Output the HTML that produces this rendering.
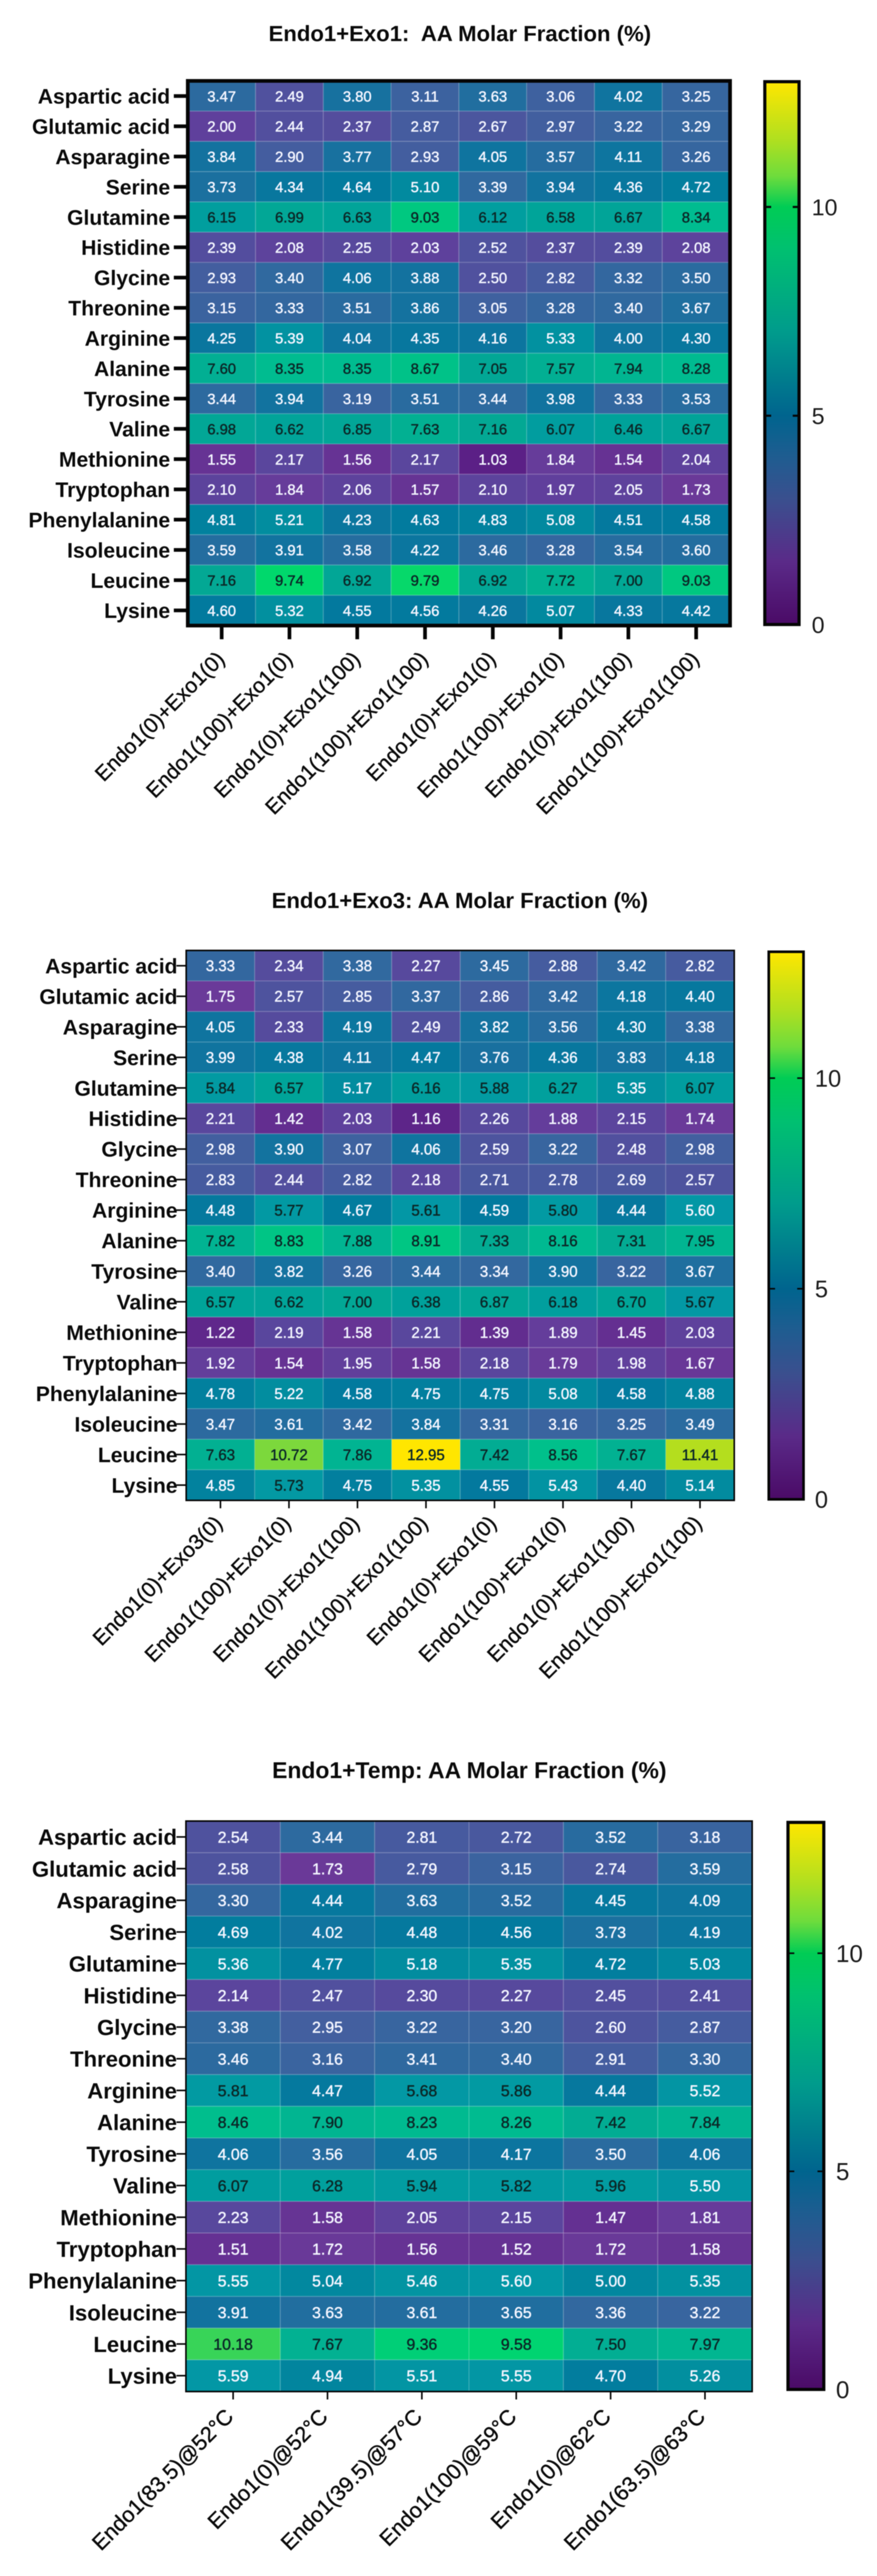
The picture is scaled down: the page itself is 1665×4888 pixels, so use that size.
<!DOCTYPE html>
<html lang="en">
<head>
<meta charset="utf-8">
<title>AA Molar Fraction Heatmaps</title>
<style>
html,body{margin:0;padding:0;background:#fff;width:1665px;height:4888px;overflow:hidden}
svg{display:block;filter:blur(0.9px)}
text{font-family:"Liberation Sans",sans-serif}
.title{font-weight:700;fill:#0a0a0a;text-anchor:middle;white-space:pre}
</style>
</head>
<body>
<svg id="figure" xmlns="http://www.w3.org/2000/svg" width="1665" height="4888" viewBox="0 0 1665 4888">
  <defs id="defs"></defs>
  <rect x="0" y="0" width="1665" height="4888" fill="#ffffff"/>
  <g id="chart1">
    <text class="title" x="873" y="78" font-size="42">Endo1+Exo1:  AA Molar Fraction (%)</text>
  </g>
  <g id="chart2">
    <text class="title" x="873" y="1723" font-size="42">Endo1+Exo3: AA Molar Fraction (%)</text>
  </g>
  <g id="chart3">
    <text class="title" x="891" y="3374" font-size="43.5">Endo1+Temp: AA Molar Fraction (%)</text>
  </g>
</svg>
<script>
const rowLabels = ["Aspartic acid","Glutamic acid","Asparagine","Serine","Glutamine","Histidine","Glycine","Threonine","Arginine","Alanine","Tyrosine","Valine","Methionine","Tryptophan","Phenylalanine","Isoleucine","Leucine","Lysine"];

const exo1Categories = ["Endo1(0)+Exo1(0)","Endo1(100)+Exo1(0)","Endo1(0)+Exo1(100)","Endo1(100)+Exo1(100)","Endo1(0)+Exo1(0)","Endo1(100)+Exo1(0)","Endo1(0)+Exo1(100)","Endo1(100)+Exo1(100)"];
const exo1Values = [
[3.47,2.49,3.80,3.11,3.63,3.06,4.02,3.25],
[2.00,2.44,2.37,2.87,2.67,2.97,3.22,3.29],
[3.84,2.90,3.77,2.93,4.05,3.57,4.11,3.26],
[3.73,4.34,4.64,5.10,3.39,3.94,4.36,4.72],
[6.15,6.99,6.63,9.03,6.12,6.58,6.67,8.34],
[2.39,2.08,2.25,2.03,2.52,2.37,2.39,2.08],
[2.93,3.40,4.06,3.88,2.50,2.82,3.32,3.50],
[3.15,3.33,3.51,3.86,3.05,3.28,3.40,3.67],
[4.25,5.39,4.04,4.35,4.16,5.33,4.00,4.30],
[7.60,8.35,8.35,8.67,7.05,7.57,7.94,8.28],
[3.44,3.94,3.19,3.51,3.44,3.98,3.33,3.53],
[6.98,6.62,6.85,7.63,7.16,6.07,6.46,6.67],
[1.55,2.17,1.56,2.17,1.03,1.84,1.54,2.04],
[2.10,1.84,2.06,1.57,2.10,1.97,2.05,1.73],
[4.81,5.21,4.23,4.63,4.83,5.08,4.51,4.58],
[3.59,3.91,3.58,4.22,3.46,3.28,3.54,3.60],
[7.16,9.74,6.92,9.79,6.92,7.72,7.00,9.03],
[4.60,5.32,4.55,4.56,4.26,5.07,4.33,4.42]
];

const exo3Categories = ["Endo1(0)+Exo3(0)","Endo1(100)+Exo1(0)","Endo1(0)+Exo1(100)","Endo1(100)+Exo1(100)","Endo1(0)+Exo1(0)","Endo1(100)+Exo1(0)","Endo1(0)+Exo1(100)","Endo1(100)+Exo1(100)"];
const exo3Values = [
[3.33,2.34,3.38,2.27,3.45,2.88,3.42,2.82],
[1.75,2.57,2.85,3.37,2.86,3.42,4.18,4.40],
[4.05,2.33,4.19,2.49,3.82,3.56,4.30,3.38],
[3.99,4.38,4.11,4.47,3.76,4.36,3.83,4.18],
[5.84,6.57,5.17,6.16,5.88,6.27,5.35,6.07],
[2.21,1.42,2.03,1.16,2.26,1.88,2.15,1.74],
[2.98,3.90,3.07,4.06,2.59,3.22,2.48,2.98],
[2.83,2.44,2.82,2.18,2.71,2.78,2.69,2.57],
[4.48,5.77,4.67,5.61,4.59,5.80,4.44,5.60],
[7.82,8.83,7.88,8.91,7.33,8.16,7.31,7.95],
[3.40,3.82,3.26,3.44,3.34,3.90,3.22,3.67],
[6.57,6.62,7.00,6.38,6.87,6.18,6.70,5.67],
[1.22,2.19,1.58,2.21,1.39,1.89,1.45,2.03],
[1.92,1.54,1.95,1.58,2.18,1.79,1.98,1.67],
[4.78,5.22,4.58,4.75,4.75,5.08,4.58,4.88],
[3.47,3.61,3.42,3.84,3.31,3.16,3.25,3.49],
[7.63,10.72,7.86,12.95,7.42,8.56,7.67,11.41],
[4.85,5.73,4.75,5.35,4.55,5.43,4.40,5.14]
];

const tempCategories = ["Endo1(83.5)@52°C","Endo1(0)@52°C","Endo1(39.5)@57°C","Endo1(100)@59°C","Endo1(0)@62°C","Endo1(63.5)@63°C"];
const tempValues = [
[2.54,3.44,2.81,2.72,3.52,3.18],
[2.58,1.73,2.79,3.15,2.74,3.59],
[3.30,4.44,3.63,3.52,4.45,4.09],
[4.69,4.02,4.48,4.56,3.73,4.19],
[5.36,4.77,5.18,5.35,4.72,5.03],
[2.14,2.47,2.30,2.27,2.45,2.41],
[3.38,2.95,3.22,3.20,2.60,2.87],
[3.46,3.16,3.41,3.40,2.91,3.30],
[5.81,4.47,5.68,5.86,4.44,5.52],
[8.46,7.90,8.23,8.26,7.42,7.84],
[4.06,3.56,4.05,4.17,3.50,4.06],
[6.07,6.28,5.94,5.82,5.96,5.50],
[2.23,1.58,2.05,2.15,1.47,1.81],
[1.51,1.72,1.56,1.52,1.72,1.58],
[5.55,5.04,5.46,5.60,5.00,5.35],
[3.91,3.63,3.61,3.65,3.36,3.22],
[10.18,7.67,9.36,9.58,7.50,7.97],
[5.59,4.94,5.51,5.55,4.70,5.26]
];

const colorTicks = [0,5,10];
const colorMax = 13;
const darkTextFrom = 5.61;

const cellStopValues = [0,1,1.75,2,2.5,3,3.4,3.84,4.6,5.3,5.6,6.5,7.16,8.34,9.03,9.74,10.18,10.72,11.41,12.95];
const cellStopColors = ["#4a0a68","#5a1f85","#6a3a99","#5f409c","#50519e","#41609f","#30699f","#14729f","#027a9e","#02909f","#0397a5","#00a39a","#03a894","#00bc90","#00c880","#00d86c","#38d458","#7cd83c","#b4de1e","#ffe600"];
const barStopValues = [0,1.5,3,4,5,7,9,10,10.74,11.58,13];
const barStopColors = ["#4a0a66","#5a2a88","#3a4f8e","#1f5c90","#00648e","#009b8c","#00c070","#00cc55","#6edc3c","#aedf20","#ffe600"];

const NS = "http://www.w3.org/2000/svg";

function hexToRgb(h){ return [1,3,5].map(i => parseInt(h.substr(i,2),16)); }
function cellColor(v){
  const n = cellStopValues.length;
  if (v <= cellStopValues[0]) return cellStopColors[0];
  if (v >= cellStopValues[n-1]) return cellStopColors[n-1];
  let i = 0;
  while (v > cellStopValues[i+1]) i++;
  const t = (v - cellStopValues[i]) / (cellStopValues[i+1] - cellStopValues[i]);
  const a = hexToRgb(cellStopColors[i]), b = hexToRgb(cellStopColors[i+1]);
  return "rgb(" + a.map((c,k) => Math.round(c + (b[k]-c)*t)).join(",") + ")";
}
function make(parent, tag, attrs, text){
  const e = document.createElementNS(NS, tag);
  for (const k in attrs) e.setAttribute(k, attrs[k]);
  if (text !== undefined) e.textContent = text;
  parent.appendChild(e);
  return e;
}

const gradDefs = document.getElementById("defs");
const grad = make(gradDefs, "linearGradient", {id:"barGradient", x1:0, y1:1, x2:0, y2:0});
barStopValues.forEach((v,i) => {
  make(grad, "stop", {offset: v / colorMax, "stop-color": barStopColors[i]});
});

function drawHeatmap(groupId, prefix, categories, values, g){
  const root = document.getElementById(groupId);
  const nCols = categories.length, nRows = rowLabels.length;
  const colW = (g.x1 - g.x0) / nCols, rowH = (g.y1 - g.y0) / nRows;
  const xScale = i => g.x0 + colW * i;
  const yScale = i => g.y0 + rowH * i;
  const barY = v => g.bar.y1 - (v / colorMax) * (g.bar.y1 - g.bar.y0);

  values.forEach((row, r) => {
    row.forEach((v, c) => {
      const cell = make(root, "rect", {x:xScale(c), y:yScale(r), width:colW, height:rowH, fill:cellColor(v), stroke:"rgba(255,255,255,0.14)", "stroke-width":2});
      
      
    });
  });
  values.forEach((row, r) => {
    row.forEach((v, c) => {
      const ink = v >= darkTextFrom ? "#0b2828" : "#f3f5ff";
      const label = make(root, "text", {x:xScale(c)+colW/2, y:yScale(r)+rowH/2, dy:"0.36em", "text-anchor":"middle", "font-size":g.cellFont, fill:ink, stroke:ink, "stroke-width":0.7}, v.toFixed(2));
      
      
    });
  });

  const frame = make(root, "rect", {x:g.x0, y:g.y0, width:g.x1-g.x0, height:g.y1-g.y0, fill:"none", stroke:"#050505", "stroke-width":g.frameW});
  
  

  rowLabels.forEach((name, r) => {
    const cy = yScale(r) + rowH/2;
    const tick = make(root, "line", {x1:g.yTickX, x2:g.x0, y1:cy, y2:cy, stroke:"#050505", "stroke-width":g.tickW});
    
    
    const label = make(root, "text", {x:g.yLabelX, y:cy, dy:"0.36em", "text-anchor":"end", "font-size":g.yFont, "font-weight":700, fill:"#0a0a0a"}, name);
    
    
  });

  categories.forEach((name, c) => {
    const cx = xScale(c) + colW/2;
    const tick = make(root, "line", {x1:cx, x2:cx, y1:g.y1 - g.frameW/2, y2:g.xTickEnd, stroke:"#050505", "stroke-width":g.tickW});
    
    
    const px = cx + g.xLabelDx, py = g.xLabelY;
    const label = make(root, "text", {x:px, y:py, "text-anchor":"end", "font-size":g.xFont, fill:"#0a0a0a", stroke:"#0a0a0a", "stroke-width":0.7, transform:"rotate(-45 " + px + " " + py + ")"}, name);
    
    
  });

  const b = g.bar;
  const barRect = make(root, "rect", {x:b.x0, y:b.y0, width:b.x1-b.x0, height:b.y1-b.y0, fill:"url(#barGradient)", stroke:"#050505", "stroke-width":b.sw});
  
  
  colorTicks.forEach(v => {
    const y = barY(v);
    if (v > 0) {
      const left = make(root, "line", {x1:b.x0, x2:b.x0+b.tickLen, y1:y, y2:y, stroke:"#050505", "stroke-width":b.tickW});
      
      
      const right = make(root, "line", {x1:b.x1-b.tickLen, x2:b.x1, y1:y, y2:y, stroke:"#050505", "stroke-width":b.tickW});
      
      
    }
    const label = make(root, "text", {x:b.labelX, y:y, dy:"0.36em", "font-size":b.fs, fill:"#1c1c1c"}, String(v));
    
    
  });
}

drawHeatmap("chart1", "exo1", exo1Categories, exo1Values, {
  x0:356.5, x1:1386, y0:153.5, y1:1187, frameW:7, tickW:7, yTickX:330, xTickEnd:1213,
  yLabelX:323, yFont:40, cellFont:28, xFont:40, xLabelDx:8, xLabelY:1253,
  bar:{x0:1452, x1:1517, y0:155, y1:1185, sw:6, tickLen:12, tickW:4, labelX:1541, fs:44}
});
drawHeatmap("chart2", "exo3", exo3Categories, exo3Values, {
  x0:353.5, x1:1394, y0:1803.5, y1:2847, frameW:3, tickW:3, yTickX:335, xTickEnd:2862,
  yLabelX:337, yFont:40, cellFont:28.5, xFont:40, xLabelDx:6, xLabelY:2893,
  bar:{x0:1459.5, x1:1525.5, y0:1806, y1:2845, sw:5, tickLen:12, tickW:3, labelX:1547, fs:45}
});
drawHeatmap("chart3", "temp", tempCategories, tempValues, {
  x0:353, x1:1428, y0:3455.5, y1:4538, frameW:3, tickW:3, yTickX:335, xTickEnd:4553,
  yLabelX:336, yFont:42, cellFont:30, xFont:41, xLabelDx:3, xLabelY:4588,
  bar:{x0:1496, x1:1564, y0:3458, y1:4534, sw:6, tickLen:12, tickW:3, labelX:1587, fs:46}
});
</script>
</body>
</html>
